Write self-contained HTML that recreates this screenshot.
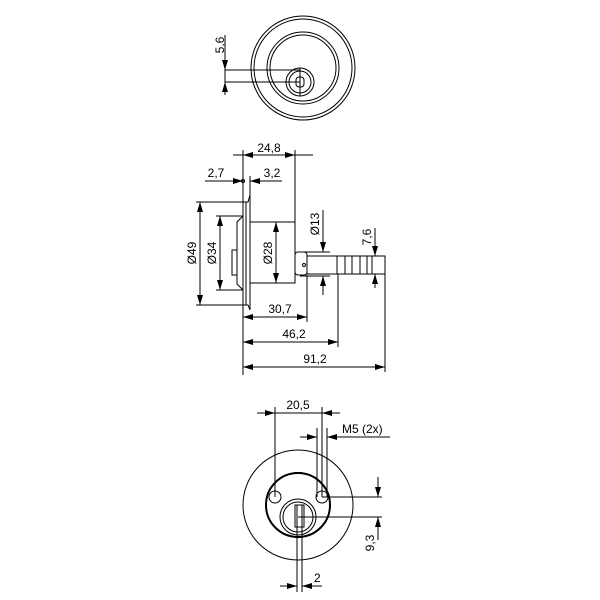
<!DOCTYPE html>
<html><head><style>body{margin:0;background:#fff}svg{display:block}</style></head><body>
<svg width="600" height="600" viewBox="0 0 600 600" xmlns="http://www.w3.org/2000/svg" font-family="Liberation Sans, sans-serif" font-size="12">
<defs>
<marker id="a" viewBox="0 0 10 6" refX="10" refY="3" markerWidth="10" markerHeight="6" orient="auto" markerUnits="userSpaceOnUse"><path d="M0,0L10,3L0,6z" fill="#000"/></marker>
</defs>
<g fill="none" stroke="#000" stroke-width="1">
<!-- top view -->
<circle cx="303" cy="68" r="52"/>
<circle cx="303" cy="68" r="49"/>
<circle cx="303" cy="68" r="36"/>
<circle cx="303" cy="68" r="33"/>
<circle cx="300" cy="82" r="14"/>
<circle cx="300" cy="82" r="11"/>
<rect x="296" y="77" width="8" height="10" rx="3"/>
<line x1="300" y1="68" x2="300" y2="96"/>
<line x1="225" y1="70" x2="300" y2="70"/>
<line x1="225" y1="82" x2="300" y2="82"/>
<line x1="225" y1="35" x2="225" y2="70" marker-end="url(#a)"/>
<line x1="225" y1="95" x2="225" y2="82" marker-end="url(#a)"/>
<line x1="225" y1="70" x2="225" y2="82"/>
<!-- side view -->
<path d="M243,202 L248,202 L250,195 L250,310 L248,305 L243,305 Z"/>
<line x1="246" y1="202" x2="246" y2="305"/>
<path d="M243,216 L237,222 L237,284 L243,290"/>
<rect x="232" y="250" width="5" height="25"/>
<rect x="250" y="222" width="45" height="61"/>
<rect x="295" y="252" width="12" height="23" rx="3"/>
<rect x="307" y="256" width="78" height="18"/>
<line x1="337" y1="256" x2="337" y2="274"/><line x1="345" y1="256" x2="345" y2="274"/>
<line x1="352" y1="256" x2="352" y2="274"/><line x1="360" y1="256" x2="360" y2="274"/>
<line x1="367" y1="256" x2="367" y2="274"/><line x1="372" y1="256" x2="372" y2="274"/>
<circle cx="304" cy="265" r="1.5"/>
<!-- ext lines -->
<line x1="243" y1="150" x2="243" y2="375"/>
<line x1="295" y1="150" x2="295" y2="222"/>
<line x1="250" y1="176" x2="250" y2="195"/>
<line x1="307" y1="275" x2="307" y2="322"/>
<line x1="338" y1="274" x2="338" y2="347"/>
<line x1="385" y1="274" x2="385" y2="372"/>
<line x1="196" y1="202" x2="243" y2="202"/><line x1="196" y1="305" x2="243" y2="305"/>
<line x1="216" y1="216" x2="243" y2="216"/><line x1="216" y1="290" x2="243" y2="290"/>
<line x1="300" y1="252" x2="330" y2="252"/><line x1="300" y1="276" x2="330" y2="276"/>
<line x1="362" y1="256" x2="380" y2="256"/>
<!-- dims -->
<line x1="220" y1="253" x2="220" y2="216" marker-end="url(#a)"/><line x1="220" y1="253" x2="220" y2="290" marker-end="url(#a)"/>
<line x1="200" y1="253" x2="200" y2="202" marker-end="url(#a)"/><line x1="200" y1="253" x2="200" y2="305" marker-end="url(#a)"/>
<line x1="276" y1="253" x2="276" y2="222" marker-end="url(#a)"/><line x1="276" y1="253" x2="276" y2="283" marker-end="url(#a)"/>
<line x1="323" y1="210" x2="323" y2="252" marker-end="url(#a)"/><line x1="323" y1="295" x2="323" y2="276" marker-end="url(#a)"/>
<line x1="375" y1="228" x2="375" y2="256" marker-end="url(#a)"/><line x1="375" y1="288" x2="375" y2="274" marker-end="url(#a)"/>
<line x1="233" y1="155" x2="243" y2="155"/><line x1="295" y1="155" x2="313" y2="155"/>
<line x1="269" y1="155" x2="243" y2="155" marker-end="url(#a)"/><line x1="269" y1="155" x2="295" y2="155" marker-end="url(#a)"/>
<line x1="205" y1="181" x2="243" y2="181" marker-end="url(#a)"/><line x1="282" y1="181" x2="250" y2="181" marker-end="url(#a)"/>
<line x1="275" y1="317" x2="243" y2="317" marker-end="url(#a)"/><line x1="275" y1="317" x2="307" y2="317" marker-end="url(#a)"/>
<line x1="290" y1="342" x2="243" y2="342" marker-end="url(#a)"/><line x1="290" y1="342" x2="338" y2="342" marker-end="url(#a)"/>
<line x1="314" y1="367" x2="243" y2="367" marker-end="url(#a)"/><line x1="314" y1="367" x2="385" y2="367" marker-end="url(#a)"/>
<!-- bottom view -->
<circle cx="298" cy="505" r="55"/>
<circle cx="298" cy="505" r="32" stroke-width="2"/>
<circle cx="275" cy="497" r="6"/><circle cx="322" cy="497" r="6"/>
<circle cx="298" cy="517" r="18"/><circle cx="298" cy="517" r="15"/>
<rect x="295" y="505" width="9" height="22"/>
<line x1="294" y1="473" x2="302" y2="473" stroke-width="2"/>
<line x1="297" y1="505" x2="297" y2="592"/><line x1="302" y1="505" x2="302" y2="592"/>
<line x1="275" y1="407" x2="275" y2="497"/><line x1="322" y1="407" x2="322" y2="497"/>
<line x1="317" y1="428" x2="317" y2="497"/><line x1="327" y1="428" x2="327" y2="497"/>
<line x1="257" y1="413" x2="275" y2="413" marker-end="url(#a)"/><line x1="340" y1="413" x2="322" y2="413" marker-end="url(#a)"/>
<line x1="275" y1="413" x2="322" y2="413"/>
<line x1="300" y1="437" x2="317" y2="437" marker-end="url(#a)"/><line x1="390" y1="437" x2="327" y2="437" marker-end="url(#a)"/>
<line x1="322" y1="497" x2="382" y2="497"/><line x1="298" y1="517" x2="382" y2="517"/>
<line x1="378" y1="477" x2="378" y2="497" marker-end="url(#a)"/><line x1="378" y1="540" x2="378" y2="517" marker-end="url(#a)"/>
<line x1="280" y1="586" x2="297" y2="586" marker-end="url(#a)"/><line x1="322" y1="586" x2="302" y2="586" marker-end="url(#a)"/>
</g>
<g fill="#000">
<circle cx="243" cy="181" r="1.5" fill="none" stroke="#000"/>
<text x="224" y="45" transform="rotate(-90 224 45)" text-anchor="middle">5,6</text>
<text x="269" y="152" text-anchor="middle">24,8</text>
<text x="216" y="177" text-anchor="middle">2,7</text>
<text x="272" y="177" text-anchor="middle">3,2</text>
<text x="196" y="253" transform="rotate(-90 196 253)" text-anchor="middle">Ø49</text>
<text x="216" y="253" transform="rotate(-90 216 253)" text-anchor="middle">Ø34</text>
<text x="272" y="253" transform="rotate(-90 272 253)" text-anchor="middle">Ø28</text>
<text x="319" y="224" transform="rotate(-90 319 224)" text-anchor="middle">Ø13</text>
<text x="371" y="237" transform="rotate(-90 371 237)" text-anchor="middle">7,6</text>
<text x="280" y="313" text-anchor="middle">30,7</text>
<text x="294" y="338" text-anchor="middle">46,2</text>
<text x="315" y="363" text-anchor="middle">91,2</text>
<text x="298" y="409" text-anchor="middle">20,5</text>
<text x="342" y="433">M5 (2x)</text>
<text x="374" y="543" transform="rotate(-90 374 543)" text-anchor="middle">9,3</text>
<text x="314" y="582">2</text>
</g>
</svg>
</body></html>
